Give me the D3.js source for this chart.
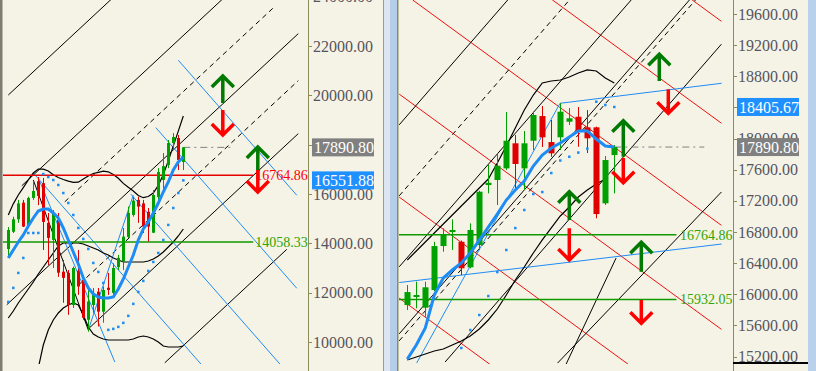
<!DOCTYPE html>
<html><head><meta charset="utf-8">
<script src="https://cdn.jsdelivr.net/npm/d3@7"></script>
<style>body{margin:0;background:#F5F3E6}svg{display:block}</style>
</head><body>
<svg id="c" width="816" height="371"></svg>
<script>
// ---------------- DATA ----------------
// Left panel candles: [open, high, low, close]
const leftOHLC = [
[13770,14660,13490,14540],[14470,15080,14420,14975],[14975,15760,14830,15620],[15650,15760,14660,14680],
[14745,15890,14660,15840],[15840,16520,15760,16120],[16520,16690,15550,15920],[16440,16650,13730,14870],
[14830,15230,13120,14220],[14140,15350,13000,15230],[14950,15230,12640,12810],[12850,13330,11590,12600],
[12800,12920,11100,11500],[11500,13060,11380,13000],[12890,13730,11910,12250],[12520,12650,10900,10980],
[10900,12250,10420,11640],[11500,12190,11180,11990],[12040,12190,10630,11230],[11230,12250,10780,12110],
[12200,12800,11910,12110],[11990,13190,11840,13000],[13040,13530,12920,13410],[13260,14620,12920,14270],
[14260,15490,14220,15230],[15150,15890,15080,15730],[15760,15890,14830,15490],[15620,15760,14420,14680],
[15280,15430,14070,14680],[14430,16160,14420,15960],[15880,17050,15760,16890],[16570,17660,16160,17130],
[17175,18190,17050,18065],[18065,18470,17780,18310],[18270,18390,16970,17380],[17300,17890.8,16970,17890.8]
];
const leftMA = [13405,13730,14054,14338,14703,15027,15311,15392,15392,15230,15027,14622,14135,13649,13162,12595,
12189,11946,11824,11784,11784,11824,12149,12554,13041,13527,14135,14581,14865,15230,15635,16081,16487,16973,17298,17500];
const leftSAR = [11626,12193,12800,13408,14420,14420,14420,16810,16689,16567,16365,16040,15636,15150,14623,14178,
13772,13205,12841,12395,10492,10532,10613,10775,11059,11545,12031,12476,12881,13246,13610,14137,14745,15433,16040,16551.88];
const leftUpperBand = [15150,15600,15960,16260,16570,16850,17010,17010,16930,16780,16670,16590,16520,16470,16480,16610,
16730,16830,16880,16930,16900,16790,16640,16430,16270,16120,15940,15850,15900,16040,16350,16790,17340,17950,18550,19160];
const leftMidBand = [10973,11257,11581,11865,12149,12433,12757,13041,13324,13608,13892,14014,14014,14014,14014,13973,
13892,13811,13730,13608,13527,13405,13324,13243,13243,13243,13243,13243,13284,13365,13487,13649,13851,14054,14297,14581];
const leftLowerBand = [null,null,null,null,null,null,8946,9878,10487,10892,11176,11378,11500,11581,11500,11095,10608,
10324,10203,10122,10081,10081,10081,10081,10081,10122,10203,10243,10203,10122,10000,9838,9797,9797,9797,9838];
// trend lines: [index0, price0, index1, price1]
const leftBlackSolid = [[0,20013,21,23972],[2.7,16335,45,24309],[-0.3,11512,58,22502],[16.3,10588,58,18448],[31.3,9158,55.7,13757],[5,16567,16,10487]];
const leftBlackDashed = [[11.3,15685,53,23546],[14.3,12360,58,20597]];
const leftBlueThin = [[34,21423,57.7,15948],[29.5,18692,57.7,12178],[24.5,15995,57.7,8326],[5,16852,40,8767],[6,16649,21.3,9189],[16,10487,25,15960]];
const leftLevels = [{v:16764.86,color:"#E80000",label:"16764.86",text:"#FF0000"},{v:14058.33,color:"#119A00",label:"14058.33",text:"#2FA300"}];
const leftArrows = [{i:42.9,top:20784,bot:19689,dir:"up"},{i:42.9,top:19405,bot:18392,dir:"down"},
                    {i:49.9,top:17905,bot:16892,dir:"up"},{i:49.9,top:16973,bot:16081,dir:"down"}];
const leftTicks = [10000,12000,14000,16000,18000,20000,22000,24000];

// Right panel
const rightOHLC = [
[15861,16118,15797,16028],[15968,16161,15819,15990],[15827,16161,15711,16089],[16054,16674,16040,16619],
[16619,16847,16546,16773],[16799,16962,16568,16825],[16674,16690,16247,16333],[16346,16911,16333,16825],
[16632,17330,16568,17317],[17403,17660,17296,17432],[17467,17814,17146,17651],[17617,18341,17596,17972],
[17939,18045,17339,17673],[17617,18097,17339,17939],[17972,18345,17852,18302],[18289,18418,17891,18016],
[17955,18238,17766,17810],[18016,18456,17852,18345],[18216,18392,18174,18260],[18280,18405,17895,18088],
[18144,18366,17814,18003],[18144,18152,16975,17030],[17168,17775,17146,17724],[17788,17917,17296,17890.8]
];
const rightMA = [15167,15347,15566,15990,16208,16311,16401,16529,16696,16863,17030,17210,17339,17454,17647,17788,
17878,17942,18019,18097,18097,17994,17904,17891];
const rightSAR = [null,null,null,null,null,null,15309,15540,15733,15977,16285,16568,16850,17082,17287,17313,17557,
17718,17766,17820,17870,18473,18431,18405.67];
const rightUpperBand = [16440,16555,16671,16786,16902,17018,17133,17249,17365,17480,17686,17904,18135,18367,18559,
18714,18739,18752,18791,18842,18881,18868,18778,18714];
const rightLowerBand = [15155,15194,15232,15271,15296,15348,15399,15463,15553,15669,15810,15990,16183,16350,16530,
16697,16851,17005,17121,17249,17339,17416,17480,null];
const rightBlackSolid = [[-0.9,18176,11.2,19786],[-0.9,16352,25,19797],[-0.9,15491,32,19867],[4.2,15129,34.9,19212],[16.7,15116,34.9,17313],[17.6,15091,23.2,16465]];
const rightBlackDashed = [[-0.9,17264,18,19778],[-0.9,15401,33,19910]];
const rightRed = [[31.6,19785,34.9,19506],[16.1,19783,34.9,18197],[0.6,19780,34.9,16885],[-0.9,18571,34.9,15549],[-0.9,17248,34.9,14226],[-0.9,15950,15,14608]];
const rightBlueThin = [[1.04,15116,16.97,18453],[16.97,18453,34.93,18710],[-0.9,16150,34.93,16645]];
const rightLevels = [{v:16764.86,label:"16764.86"},{v:15932.05,label:"15932.05"}];
const rightArrows = [{j:28,top:19082,bot:18739,dir:"up"},{j:29,top:18633,bot:18324,dir:"down"},
  {j:24,top:18229,bot:17767,dir:"up"},{j:24,top:17750,bot:17433,dir:"down"},
  {j:18,top:17317,bot:16954,dir:"up"},{j:18,top:16847,bot:16440,dir:"down"},
  {j:26,top:16667,bot:16289,dir:"up"},{j:26,top:15926,bot:15626,dir:"down"}];
const rightTicks = [15200,15600,16000,16400,16800,17200,17600,18000,18400,18800,19200,19600];
const lastClose = 17890.8;

// ---------------- DRAW ----------------
const svg = d3.select("#c");
const BG = "#F5F3E6", GREEN="#00A000", RED="#E00000", BLUE="#1E8CF5", AX="#8C8C5A";
const FONT = "'Liberation Serif','Times New Roman',serif";
svg.append("rect").attr("width",816).attr("height",371).attr("fill",BG);

const xL = d3.scaleLinear().domain([0,35]).range([8.3,183.3]);
const yL = d3.scaleLinear().domain([10000,22000]).range([342,46]);
const xR = d3.scaleLinear().domain([0,23]).range([407.3,614.3]);
const yR = d3.scaleLinear().domain([15200,19600]).range([356.5,14]);

const defs = svg.append("defs");
defs.append("clipPath").attr("id","clipL").append("rect").attr("x",3).attr("y",0).attr("width",305).attr("height",364);
defs.append("clipPath").attr("id","clipR").append("rect").attr("x",399).attr("y",0).attr("width",334).attr("height",364);

function panel(clip, x, y, o) {
  const g = svg.append("g").attr("clip-path",`url(#${clip})`);
  const seg = (arr, color, dash, w) => g.selectAll(null).data(arr).enter().append("line")
      .attr("x1",d=>x(d[0])).attr("y1",d=>y(d[1])).attr("x2",d=>x(d[2])).attr("y2",d=>y(d[3]))
      .attr("stroke",color).attr("stroke-width",w||1).attr("stroke-dasharray",dash||null);
  const curve = (vals, color, w) => g.append("path").datum(vals)
      .attr("d", d3.line().defined(v=>v!=null).x((v,i)=>x(i)).y(v=>y(v)))
      .attr("fill","none").attr("stroke",color).attr("stroke-width",w);
  seg(o.red||[], "#F01010", null, 1);
  seg(o.blackSolid, "#000", null, 1);
  seg(o.blackDashed, "#000", "5,4", 1);
  seg(o.blueThin, BLUE, null, 1);
  o.bands.forEach(b=>curve(b,"#000",1.2));
  o.levels.forEach(l=>{
    g.append("line").attr("x1",x(l.i0)).attr("x2",x(l.i1)).attr("y1",y(l.v)).attr("y2",y(l.v))
      .attr("stroke",l.color).attr("stroke-width",1.5);
  });
  g.append("line").attr("x1",x(o.ohlc.length-1)).attr("x2",x(o.closeEnd)).attr("y1",y(lastClose)).attr("y2",y(lastClose))
    .attr("stroke","#808080").attr("stroke-width",1).attr("stroke-dasharray","7,4,2,4");
  const cg = g.append("g");
  o.ohlc.forEach((d,i)=>{
    const up = d[3]>=d[0], col = up?GREEN:RED;
    const cx = Math.round(x(i))+0.5;
    cg.append("line").attr("x1",cx).attr("x2",cx).attr("y1",y(d[1])).attr("y2",y(d[2])).attr("stroke",col).attr("stroke-width",1);
    const t = y(Math.max(d[0],d[3])), b = y(Math.min(d[0],d[3]));
    cg.append("rect").attr("x",cx-o.bw/2).attr("y",t).attr("width",o.bw).attr("height",Math.max(2,b-t)).attr("fill",col);
  });
  curve(o.ma, BLUE, 3);
  g.selectAll(null).data(o.sar.map((v,i)=>[i,v]).filter(d=>d[1]!=null)).enter().append("rect")
    .attr("x",d=>x(d[0])-1.25).attr("y",d=>y(d[1])-1.25).attr("width",2.5).attr("height",2.5).attr("fill",BLUE);
  o.arrows.forEach(a=>{
    const ax = x(a.i), yt=y(a.top), yb=y(a.bot);
    const p = a.dir==="up"
      ? `M${ax},${yb}L${ax},${yt+1}M${ax-11},${yt+11}L${ax},${yt}L${ax+11},${yt+11}`
      : `M${ax},${yt}L${ax},${yb-1}M${ax-11},${yb-11}L${ax},${yb}L${ax+11},${yb-11}`;
    svg.append("path").attr("d",p).attr("fill","none").attr("stroke",a.dir==="up"?"#007A00":"#FF0000")
      .attr("stroke-width",3.5).attr("stroke-linejoin","miter");
  });
}

panel("clipL", xL, yL, {
  ohlc:leftOHLC, ma:leftMA, sar:leftSAR, bw:3, closeEnd:45.1,
  bands:[leftUpperBand,leftMidBand,leftLowerBand],
  blackSolid:leftBlackSolid, blackDashed:leftBlackDashed, blueThin:leftBlueThin,
  levels:leftLevels.map(l=>({v:l.v,color:l.color,i0:-1.2,i1:49})),
  arrows:leftArrows
});
panel("clipR", xR, yR, {
  ohlc:rightOHLC, ma:rightMA, sar:rightSAR, bw:6, closeEnd:33,
  bands:[rightUpperBand,rightLowerBand], red:rightRed,
  blackSolid:rightBlackSolid, blackDashed:rightBlackDashed, blueThin:rightBlueThin,
  levels:rightLevels.map(l=>({v:l.v,color:"#119A00",i0:-1,i1:29.9})),
  arrows:rightArrows.map(a=>({i:a.j,top:a.top,bot:a.bot,dir:a.dir}))
});

// level labels
leftLevels.forEach(l=>svg.append("text").attr("x",xL(49.4)).attr("y",yL(l.v)).attr("dy","0.35em")
  .attr("font-family",FONT).attr("font-size",14).attr("fill",l.text).text(l.label));
rightLevels.forEach(l=>svg.append("text").attr("x",xR(30.3)).attr("y",yR(l.v)).attr("dy","0.35em")
  .attr("font-family",FONT).attr("font-size",14).attr("fill","#33A500").text(l.label));

// axes
function axis(x0, y, ticks, boxes) {
  const g = svg.append("g");
  g.append("line").attr("x1",x0+0.5).attr("x2",x0+0.5).attr("y1",0).attr("y2",371).attr("stroke",AX).attr("stroke-width",1);
  ticks.forEach(t=>{
    const yy = Math.round(y(t))+0.5;
    g.append("line").attr("x1",x0).attr("x2",x0+4).attr("y1",yy).attr("y2",yy).attr("stroke",AX);
    // labels fully hidden under a value box are not drawn
    const hidden = boxes.some(b=>Math.abs(y(b.v)-y(t))<5);
    if (!hidden) g.append("text").attr("x",x0+5).attr("y",y(t)).attr("dy","0.35em").attr("font-family",FONT)
      .attr("font-size",16).attr("fill","#555560").text(d3.format(".2f")(t));
  });
  boxes.forEach(b=>{
    const yy=y(b.v);
    g.append("rect").attr("x",x0+4).attr("y",yy-9).attr("width",62).attr("height",18).attr("fill",b.fill);
    g.append("text").attr("x",x0+6).attr("y",yy).attr("dy","0.35em").attr("font-family",FONT)
      .attr("font-size",16).attr("fill","#fff").text(d3.format(".2f")(b.v));
  });
}
axis(308, yL, leftTicks, [{v:lastClose,fill:"#808080"},{v:leftSAR[leftSAR.length-1],fill:"#1E90FF"}]);
axis(733, yR, rightTicks, [{v:rightSAR[rightSAR.length-1],fill:"#1E90FF"},{v:lastClose,fill:"#808080"}]);
svg.append("rect").attr("x",733).attr("y",362).attr("width",75).attr("height",2).attr("fill","#000");

// frames
svg.append("rect").attr("x",0).attr("y",0).attr("width",2.5).attr("height",371).attr("fill","#7D7D72");
svg.append("rect").attr("x",383).attr("y",0).attr("width",1).attr("height",371).attr("fill","#9A9A9A");
svg.append("rect").attr("x",384).attr("y",0).attr("width",6).attr("height",371).attr("fill","#DCE6F1");
svg.append("rect").attr("x",390).attr("y",0).attr("width",7).attr("height",371).attr("fill","#B5CDE8");
svg.append("rect").attr("x",397).attr("y",0).attr("width",1.5).attr("height",371).attr("fill","#8C8C5A");
svg.append("rect").attr("x",808).attr("y",0).attr("width",8).attr("height",371).attr("fill","#B9D1EA");
</script>
</body></html>
